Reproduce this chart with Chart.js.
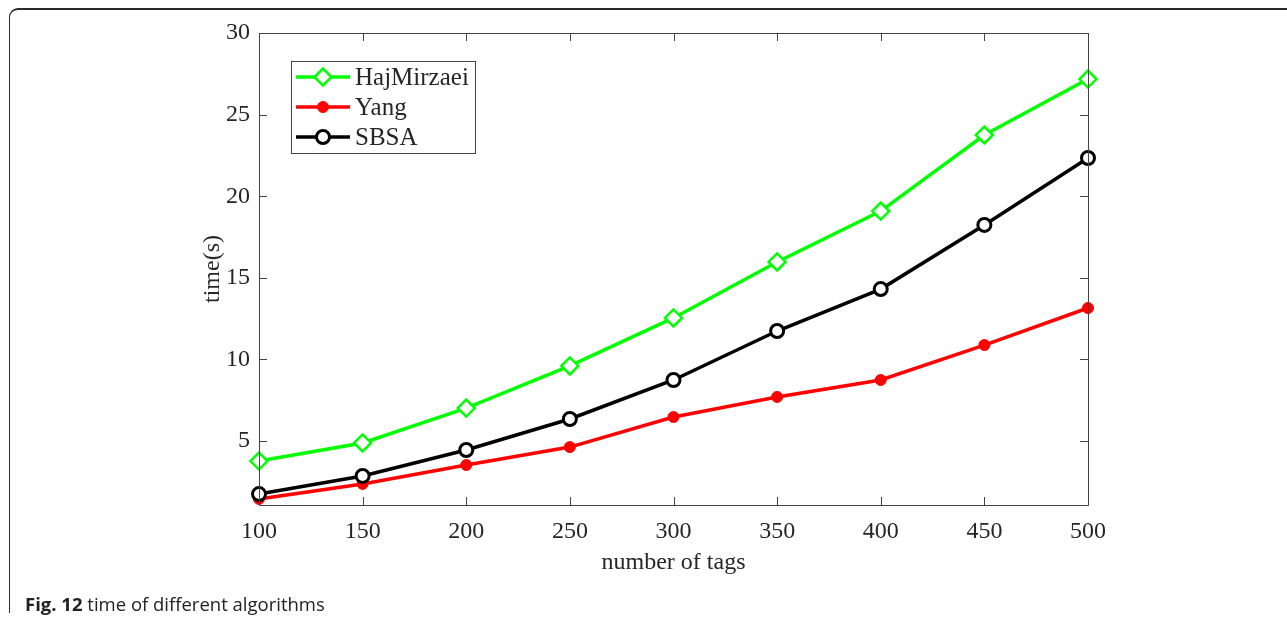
<!DOCTYPE html>
<html>
<head>
<meta charset="utf-8">
<script src="https://cdn.jsdelivr.net/npm/chart.js@4.4.1/dist/chart.umd.min.js"></script>
<style>
  html, body { margin: 0; padding: 0; background: #fff; }
  #wrap { position: relative; width: 1287px; height: 617px; overflow: hidden; }
  #frame {
    position: absolute; left: 9px; top: 8px; width: 1300px; height: 605px;
    border-top: 2px solid #2a2a2a; border-left: 1.5px solid #2a2a2a;
    border-top-left-radius: 9px; box-sizing: border-box;
  }
  #chart { position: absolute; left: 0; top: 0; }
  #caption {
    position: absolute; left: 25px; top: 592px;
    font-family: "Open Sans", "Noto Sans", sans-serif; font-size: 18.5px; color: #222;
    white-space: nowrap; line-height: 24px;
  }
  #caption b { font-weight: 700; }
</style>
</head>
<body>
<div id="wrap">
  <div id="frame"></div>
  <canvas id="chart" width="1287" height="617"></canvas>
  <div id="caption"><b>Fig. 12</b> time of different algorithms</div>
</div>
<script>
// number of tags on the x axis
const tags = [100, 150, 200, 250, 300, 350, 400, 450, 500];
// running time (s) of each algorithm
const hajMirzaei = [3.77, 4.88, 7.02, 9.60, 12.54, 15.97, 19.09, 23.75, 27.18];
const yang       = [1.45, 2.37, 3.53, 4.63, 6.47, 7.70, 8.74, 10.88, 13.15];
const sbsa       = [1.75, 2.86, 4.45, 6.35, 8.74, 11.74, 14.31, 18.24, 22.34];
// axis tick values
const xTickValues = [100, 150, 200, 250, 300, 350, 400, 450, 500];
const yTickValues = [5, 10, 15, 20, 25, 30];

const serif = '"Liberation Serif", "Times New Roman", serif';
const textColor = '#262626';
const axisColor = '#444';

const toPoints = (ys) => tags.map((x, i) => ({ x, y: ys[i] }));

// Box around the plot area with inward tick marks on all four sides
const boxAxes = {
  id: 'boxAxes',
  afterDatasetsDraw(chart) {
    const { ctx, chartArea: a, scales: { x, y } } = chart;
    const len = 8;
    ctx.save();
    ctx.strokeStyle = axisColor;
    ctx.lineWidth = 1;
    ctx.beginPath();
    ctx.rect(a.left + 0.5, a.top + 0.5, a.right - a.left, a.bottom - a.top);
    xTickValues.forEach(v => {
      const px = Math.round(x.getPixelForValue(v)) + 0.5;
      ctx.moveTo(px, a.bottom); ctx.lineTo(px, a.bottom - len);
      ctx.moveTo(px, a.top); ctx.lineTo(px, a.top + len);
    });
    yTickValues.forEach(v => {
      const py = Math.round(y.getPixelForValue(v)) + 0.5;
      ctx.moveTo(a.left, py); ctx.lineTo(a.left + len, py);
      ctx.moveTo(a.right, py); ctx.lineTo(a.right - len, py);
    });
    ctx.stroke();
    ctx.restore();
  }
};

// Legend box in the upper-left corner of the plot
const boxLegend = {
  id: 'boxLegend',
  afterDraw(chart) {
    const { ctx } = chart;
    const bx = 291, by = 61, bw = 184, bh = 92;
    ctx.save();
    ctx.fillStyle = '#fff';
    ctx.fillRect(bx, by, bw, bh);
    ctx.strokeStyle = axisColor;
    ctx.lineWidth = 1;
    ctx.strokeRect(bx + 0.5, by + 0.5, bw, bh);
    const rowY = [77, 107, 137];
    chart.data.datasets.forEach((ds, i) => {
      const cy = rowY[i];
      ctx.strokeStyle = ds.borderColor;
      ctx.lineWidth = ds.borderWidth;
      ctx.beginPath();
      ctx.moveTo(296, cy); ctx.lineTo(350, cy);
      ctx.stroke();
      ctx.fillStyle = ds.pointBackgroundColor;
      ctx.strokeStyle = ds.pointBorderColor;
      ctx.lineWidth = ds.pointBorderWidth;
      Chart.helpers.drawPoint(ctx, {
        pointStyle: ds.pointStyle,
        radius: ds.pointRadius,
        borderWidth: ds.pointBorderWidth
      }, 323, cy);
      ctx.fillStyle = textColor;
      ctx.font = '25px ' + serif;
      ctx.textBaseline = 'middle';
      ctx.textAlign = 'left';
      ctx.fillText(ds.label, 355, cy + 1);
    });
    ctx.restore();
  }
};

new Chart(document.getElementById('chart'), {
  type: 'line',
  data: {
    datasets: [
      {
        label: 'HajMirzaei', data: toPoints(hajMirzaei),
        borderColor: '#00ff00', borderWidth: 3.5,
        pointStyle: 'rectRot', pointRadius: 8.5, pointBorderWidth: 2.5,
        pointBackgroundColor: '#fff', pointBorderColor: '#00ff00',
        clip: false, order: 3
      },
      {
        label: 'Yang', data: toPoints(yang),
        borderColor: '#ff0000', borderWidth: 3.5,
        pointStyle: 'circle', pointRadius: 5.5, pointBorderWidth: 1,
        pointBackgroundColor: '#ff0000', pointBorderColor: '#ff0000',
        clip: false, order: 2
      },
      {
        label: 'SBSA', data: toPoints(sbsa),
        borderColor: '#000000', borderWidth: 3.5,
        pointStyle: 'circle', pointRadius: 6.5, pointBorderWidth: 3,
        pointBackgroundColor: '#fff', pointBorderColor: '#000000',
        clip: false, order: 1
      }
    ]
  },
  options: {
    responsive: false,
    animation: false,
    devicePixelRatio: 1,
    layout: { padding: { left: 0, right: 199, top: 33, bottom: 0 } },
    plugins: { legend: { display: false }, tooltip: { enabled: false } },
    elements: { line: { tension: 0 } },
    scales: {
      x: {
        type: 'linear', min: 100, max: 500,
        afterFit: (s) => { s.height = 112; },
        afterBuildTicks: (s) => { s.ticks = xTickValues.map(v => ({ value: v })); },
        grid: { display: false, drawTicks: false },
        border: { display: false },
        ticks: { color: textColor, font: { family: serif, size: 24 }, padding: 12, maxRotation: 0 },
        title: {
          display: true, text: 'number of tags', color: textColor,
          font: { family: serif, size: 24, lineHeight: 1.2 },
          padding: { top: 0, bottom: 40 }
        }
      },
      y: {
        type: 'linear', min: 1.08, max: 30,
        afterFit: (s) => { s.width = 259; },
        afterBuildTicks: (s) => { s.ticks = yTickValues.map(v => ({ value: v })); },
        grid: { display: false, drawTicks: false },
        border: { display: false },
        ticks: { color: textColor, font: { family: serif, size: 24 }, padding: 9 },
        title: {
          display: true, text: 'time(s)', color: textColor,
          font: { family: serif, size: 24, lineHeight: 1.2 },
          padding: { top: 198, bottom: 0 }
        }
      }
    }
  },
  plugins: [boxAxes, boxLegend]
});
</script>
</body>
</html>
